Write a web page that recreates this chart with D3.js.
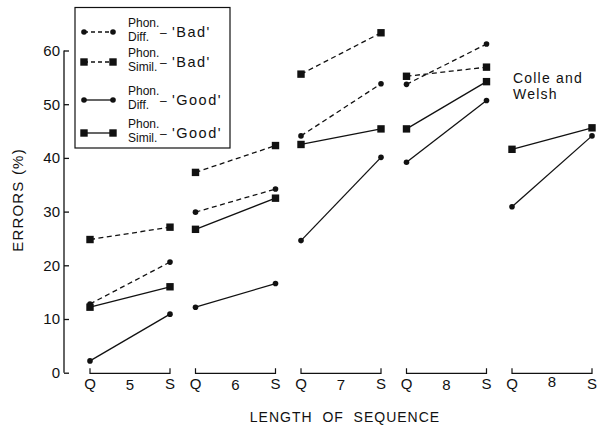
<!DOCTYPE html>
<html>
<head>
<meta charset="utf-8">
<script src="https://cdn.jsdelivr.net/npm/d3@7"></script>
<style>
  body { margin: 0; background: #fff; }
  text { font-family: "Liberation Sans", Arial, sans-serif; fill: #111; }
</style>
</head>
<body>
<div id="chart"></div>
<script>
// sequence length groups (last one is Colle and Welsh)
var groups = ["5", "6", "7", "8", "8cw"];
var groupLabels = ["5", "6", "7", "8", "8"];
var yTicks = [0, 10, 20, 30, 40, 50, 60];

// values as [Q, S] per group, null = not measured
var pdBad   = [[12.8, 20.6], [29.9, 34.2], [44.1, 53.8], [53.7, 61.2], null];
var psBad   = [[24.8, 27.1], [37.3, 42.3], [55.6, 63.3], [55.2, 56.9], null];
var pdGood  = [[2.2, 10.9], [12.2, 16.6], [24.6, 40.1], [39.2, 50.7], [30.9, 44.1]];
var psGood  = [[12.2, 16.0], [26.7, 32.5], [42.5, 45.4], [45.4, 54.2], [41.6, 45.6]];

var series = [
  {name: "Diff.", tag: "'Bad'", data: pdBad, dashed: true, square: false},
  {name: "Simil.", tag: "'Bad'", data: psBad, dashed: true, square: true},
  {name: "Diff.", tag: "'Good'", data: pdGood, dashed: false, square: false},
  {name: "Simil.", tag: "'Good'", data: psGood, dashed: false, square: true}
];

var w = 597, h = 425;
var ink = "#111";

var svg = d3.select("#chart").append("svg")
  .attr("width", w)
  .attr("height", h);

var x = d3.scaleBand()
  .domain(groups)
  .range([90, 592])
  .paddingInner(0.2417)
  .paddingOuter(0);

var y = d3.scaleLinear()
  .domain([0, 60])
  .range([372.7, 50.5]);

//Y axis: line with ticks to the right
var yAxis = svg.append("g")
  .attr("transform", "translate(64,0)")
  .call(d3.axisRight(y).tickValues(yTicks).tickSize(5).tickFormat(""));
yAxis.select(".domain").attr("d", "M0," + y(60) + "V" + y(0)).attr("stroke", ink).attr("stroke-width", 1.3);
yAxis.selectAll(".tick line").attr("stroke", ink).attr("stroke-width", 1.3);

svg.selectAll(".ylab")
  .data(yTicks)
  .enter()
  .append("text")
  .attr("class", "ylab")
  .attr("x", 60)
  .attr("y", function(d) { return y(d) + 5.4; })
  .attr("text-anchor", "end")
  .style("font-size", "15px")
  .text(function(d) { return d; });

//Brackets under each group
var bracketY = 373.3;
groups.forEach(function(g, i) {
  var x0 = x(g), x1 = x(g) + x.bandwidth();
  svg.append("path")
    .attr("d", "M" + x0 + "," + (bracketY - 5) + "V" + bracketY + "H" + x1 + "V" + (bracketY - 5))
    .attr("fill", "none")
    .attr("stroke", ink)
    .attr("stroke-width", 1.2);
  svg.append("text").attr("x", x0).attr("y", 389).attr("text-anchor", "middle")
    .style("font-size", "15px").text("Q");
  svg.append("text").attr("x", x1).attr("y", 389).attr("text-anchor", "middle")
    .style("font-size", "15px").text("S");
  svg.append("text").attr("x", (x0 + x1) / 2).attr("y", i == 4 ? 387 : 390).attr("text-anchor", "middle")
    .style("font-size", "15px").text(groupLabels[i]);
});

//Lines and markers
function drawMarker(sel, cx, cy, square) {
  if (square) {
    sel.append("rect")
      .attr("x", cx - 3.7).attr("y", cy - 3.7)
      .attr("width", 7.4).attr("height", 7.4)
      .attr("fill", ink);
  } else {
    sel.append("circle")
      .attr("cx", cx).attr("cy", cy).attr("r", 2.8)
      .attr("fill", ink);
  }
}

series.forEach(function(s) {
  var g = svg.append("g");
  s.data.forEach(function(d, i) {
    if (!d) return;
    var xq = x(groups[i]), xs = x(groups[i]) + x.bandwidth();
    g.append("line")
      .attr("x1", xq).attr("y1", y(d[0]))
      .attr("x2", xs).attr("y2", y(d[1]))
      .attr("stroke", ink)
      .attr("stroke-width", 1.3)
      .attr("stroke-dasharray", s.dashed ? "5,3.5" : null);
    drawMarker(g, xq, y(d[0]), s.square);
    drawMarker(g, xs, y(d[1]), s.square);
  });
});

//Legend box
var legend = svg.append("g");
legend.append("rect")
  .attr("x", 75).attr("y", 7.5)
  .attr("width", 155).attr("height", 140.5)
  .attr("fill", "#fff")
  .attr("stroke", ink)
  .attr("stroke-width", 1.2);

var rowY = [32, 62, 100, 133];
series.forEach(function(s, i) {
  var ry = rowY[i];
  legend.append("line")
    .attr("x1", 84).attr("y1", ry).attr("x2", 113).attr("y2", ry)
    .attr("stroke", ink).attr("stroke-width", 1.3)
    .attr("stroke-dasharray", s.dashed ? "4,3" : null);
  drawMarker(legend, 84, ry, s.square);
  drawMarker(legend, 113, ry, s.square);
  legend.append("text").attr("x", 128).attr("y", ry - 5)
    .style("font-size", "12px").text("Phon.");
  legend.append("text").attr("x", 128).attr("y", ry + 9)
    .style("font-size", "12px").text(s.name);
  legend.append("text").attr("x", 160).attr("y", ry + 5)
    .style("font-size", "12px").text("\u2013");
  legend.append("text").attr("x", 172).attr("y", ry + 5)
    .style("font-size", "14.5px")
    .style("letter-spacing", "1.5px")
    .text(s.tag);
});

//Colle and Welsh note
svg.append("text").attr("x", 513).attr("y", 83).style("font-size", "14px")
  .style("letter-spacing", "1.2px").text("Colle and");
svg.append("text").attr("x", 513).attr("y", 99).style("font-size", "14px")
  .style("letter-spacing", "1.2px").text("Welsh");

//Axis titles
svg.append("text")
  .attr("transform", "translate(23,200) rotate(-90)")
  .attr("text-anchor", "middle")
  .style("font-size", "15px")
  .style("letter-spacing", "1.2px")
  .text("ERRORS (%)");

svg.append("text")
  .attr("x", 345).attr("y", 422)
  .attr("text-anchor", "middle")
  .style("font-size", "14px")
  .style("letter-spacing", "1px")
  .attr("xml:space", "preserve")
  .text("LENGTH  OF  SEQUENCE");
</script>
</body>
</html>
